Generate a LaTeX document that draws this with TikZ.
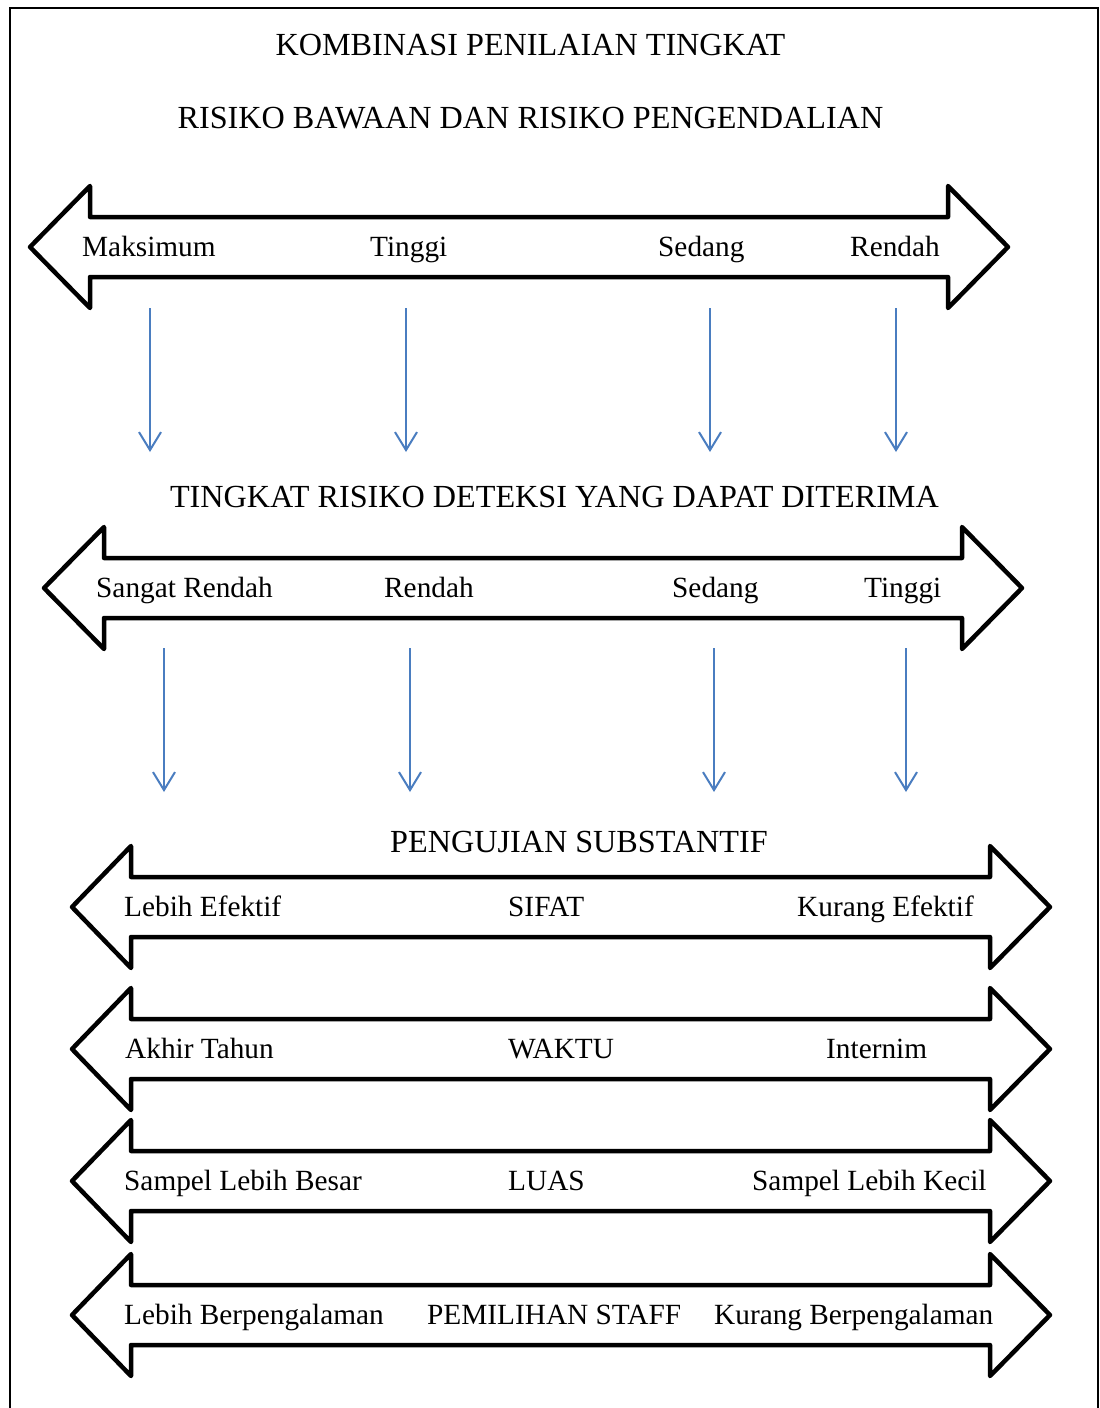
\documentclass[tikz,border=0pt]{standalone}
\usepackage{fontspec}
\setmainfont{Liberation Serif}
\usetikzlibrary{arrows.meta}
\tikzset{
  bigarrow/.style={draw=black, line width=4.5pt, line join=round, fill=white},
  lbl/.style={anchor=base west, inner sep=0pt, font=\fontsize{29.3}{34}\selectfont},
  ttl/.style={anchor=base, inner sep=0pt, font=\fontsize{32.2}{38}\selectfont},
  bluearrow/.style={draw={rgb,255:red,74;green,125;blue,192}, line width=2pt,
    -{Straight Barb[length=18pt,width=22pt,line width=2pt]}},
  frame/.style={draw=black, line width=2pt}
}
\newcommand\dblarrow[6]{%
  % #1 name, #2 left tip x, #3 left head x, #4 right head x, #5 right tip x, #6 centre y
  \draw[bigarrow] ({#2},{#6}) -- ({#3},{#6-61}) -- ({#3},{#6-30}) -- ({#4},{#6-30})
    -- ({#4},{#6-61}) -- ({#5},{#6}) -- ({#4},{#6+61}) -- ({#4},{#6+30})
    -- ({#3},{#6+30}) -- ({#3},{#6+61}) -- cycle;
  \coordinate (#1) at ({(#2+#5)/2},{#6});}
\begin{document}
\begin{tikzpicture}[x=1pt,y=-1pt]
\useasboundingbox (0,0) rectangle (1100,1408);
\fill[white] (0,0) rectangle (1100,1408);
\draw[frame] (10,1412) -- (10,8) -- (1098,8) -- (1098,1412);

% titles
\node[ttl] (t1) at (530.5,55) {KOMBINASI PENILAIAN TINGKAT};
\node[ttl] (t2) at (530.5,128) {RISIKO BAWAAN DAN RISIKO PENGENDALIAN};

% arrow 1
\dblarrow{a1}{30}{90}{948}{1008}{247}
\node[lbl] (a1l1) at (82,256) {Maksimum};
\node[lbl] (a1l2) at (370,256) {Tinggi};
\node[lbl] (a1l3) at (658,256) {Sedang};
\node[lbl] (a1l4) at (850,256) {Rendah};

\node[ttl] (t3) at (554.5,507) {TINGKAT RISIKO DETEKSI YANG DAPAT DITERIMA};

% blue arrows 1
\foreach \i/\x in {1/150,2/406,3/710,4/896}{
  \coordinate (s1\i) at (\x,308);
  \coordinate (e1\i) at (\x,452);
  \draw[bluearrow] (s1\i) -- (e1\i);
}

% arrow 2
\dblarrow{a2}{44}{104}{962}{1022}{588}
\node[lbl] (a2l1) at (96,597) {Sangat Rendah};
\node[lbl] (a2l2) at (384,597) {Rendah};
\node[lbl] (a2l3) at (672,597) {Sedang};
\node[lbl] (a2l4) at (864,597) {Tinggi};

% blue arrows 2
\foreach \i/\x in {1/164,2/410,3/714,4/906}{
  \coordinate (s2\i) at (\x,648);
  \coordinate (e2\i) at (\x,792);
  \draw[bluearrow] (s2\i) -- (e2\i);
}

\node[ttl] (t4) at (579,852) {PENGUJIAN SUBSTANTIF};

% arrow 3
\dblarrow{a3}{72}{131}{990}{1050}{907}
\node[lbl] (a3l1) at (124,916) {Lebih Efektif};
\node[lbl] (a3l2) at (508,916) {SIFAT};
\node[lbl] (a3l3) at (797,916) {Kurang Efektif};

% arrow 4
\dblarrow{a4}{72}{131}{990}{1050}{1049}
\node[lbl] (a4l1) at (125,1058) {Akhir Tahun};
\node[lbl] (a4l2) at (508,1058) {WAKTU};
\node[lbl] (a4l3) at (826,1058) {Internim};

% arrow 5
\dblarrow{a5}{72}{131}{990}{1050}{1181}
\node[lbl] (a5l1) at (124,1190) {Sampel Lebih Besar};
\node[lbl] (a5l2) at (508,1190) {LUAS};
\node[lbl] (a5l3) at (752,1190) {Sampel Lebih Kecil};

% arrow 6
\dblarrow{a6}{72}{131}{990}{1050}{1315}
\node[lbl] (a6l1) at (124,1324) {Lebih Berpengalaman};
\node[lbl] (a6l2) at (427,1324) {PEMILIHAN STAFF};
\node[lbl] (a6l3) at (714,1324) {Kurang Berpengalaman};
\end{tikzpicture}
\end{document}
